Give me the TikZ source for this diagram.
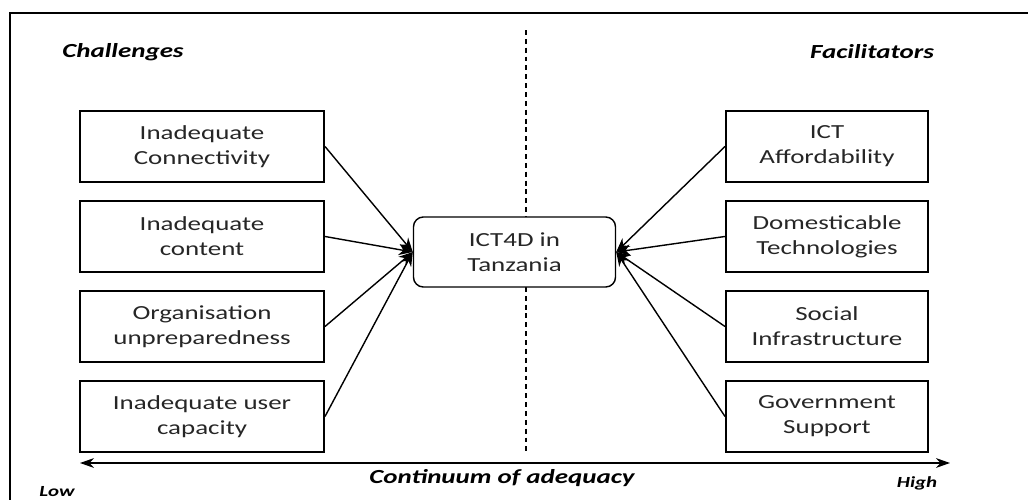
\documentclass[tikz,border=0pt]{standalone}
\usepackage{fontspec}
\setmainfont[FakeStretch=1.35]{Carlito}
\usetikzlibrary{arrows.meta,positioning}

\tikzset{
	factor/.style={draw,line width=1.4pt,minimum height=1.775cm,align=center,inner sep=2pt,text=black!85,
		font=\fontsize{14.2}{17.8}\selectfont},
	challenge/.style={factor,minimum width=6.1cm},
	facilitator/.style={factor,minimum width=5.05cm},
	heading/.style={font=\fontsize{14.2}{17}\selectfont\bfseries\itshape},
	endlabel/.style={font=\fontsize{11}{13}\selectfont\bfseries\itshape},
	push/.style={-{Stealth[length=10pt,width=8pt]},line width=1pt},
}

\begin{document}
\begin{tikzpicture}[x=0.025cm,y=-0.025cm]
		\clip (0,0) rectangle (1028,500);
		\draw[line width=1.2pt] (10,13) rectangle (1060,520);
		%
		\coordinate (top) at (526,30);
		\coordinate (bottom) at (526,455);
		\draw[line width=1.3pt,dash pattern=on 3.5pt off 2.8pt] (top) -- (bottom);
		%
		\node[heading] (chal) at (123,52) {Challenges};
		\node[heading] (facil) at (872,52) {Facilitators};
		%
		\node[challenge] (c1) at (202,146.5) {Inadequate\\Connectivity};
		\node[challenge,below=0.425cm of c1] (c2) {Inadequate\\content};
		\node[challenge,below=0.425cm of c2] (c3) {Organisation\\unpreparedness};
		\node[challenge,below=0.425cm of c3] (c4) {Inadequate user\\capacity};
		%
		\node[facilitator] (f1) at (827,146.5) {ICT\\Affordability};
		\node[facilitator,below=0.425cm of f1] (f2) {Domesticable\\Technologies};
		\node[facilitator,below=0.425cm of f2] (f3) {Social\\Infrastructure};
		\node[facilitator,below=0.425cm of f3] (f4) {Government\\Support};
		%
		\node[factor,minimum width=5.05cm,minimum height=1.75cm,rounded corners=7pt,fill=white,line width=1pt] (hub) at (514.5,252) {ICT4D in\\Tanzania};
		%
		\draw[push] (c1.east) -- (hub.west);
		\draw[push] (c2.east) -- (hub.west);
		\draw[push] (c3.east) -- (hub.west);
		\draw[push] (c4.east) -- (hub.west);
		\draw[push] (f1.west) -- (hub.east);
		\draw[push] (f2.west) -- (hub.east);
		\draw[push] (f3.west) -- (hub.east);
		\draw[push] (f4.west) -- (hub.east);
		%
		\coordinate (lo) at (80,463);
		\coordinate (hi) at (950,463);
		\draw[{Stealth[length=10pt,width=7pt]}-{Stealth[length=10pt,width=7pt]},line width=1pt] (lo) -- (hi);
		\node[heading] (cont) at (502,478) {Continuum of adequacy};
		\node[endlabel] (low) at (57,492) {Low};
		\node[endlabel] (high) at (917,483) {High};
\end{tikzpicture}
\end{document}
